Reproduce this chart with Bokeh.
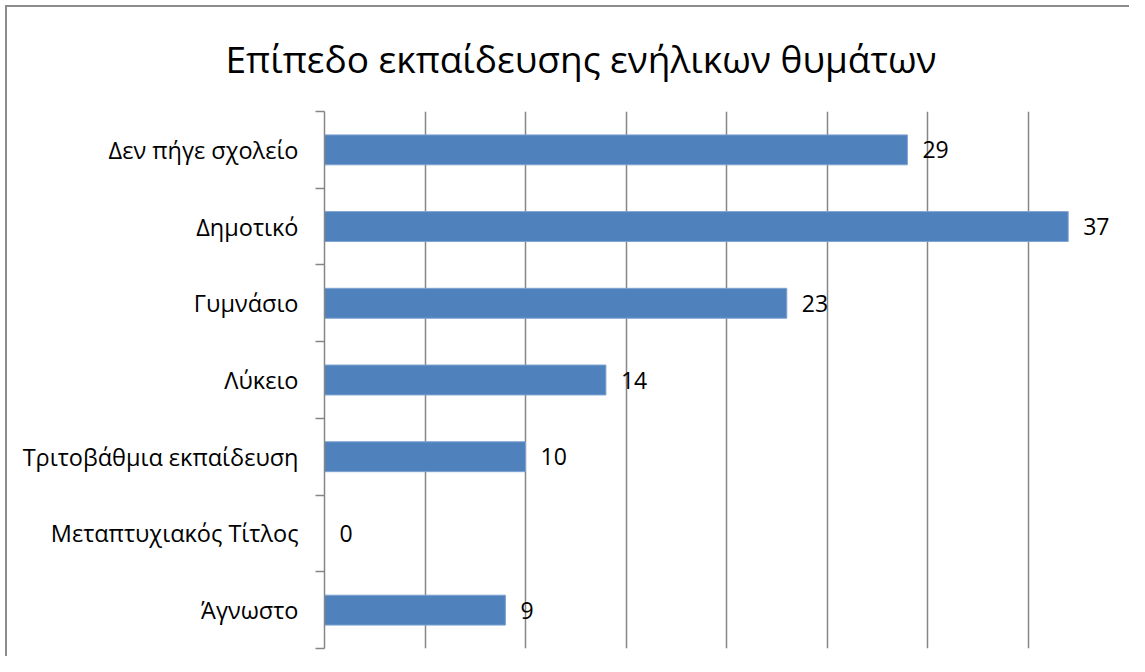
from bokeh.plotting import figure
from bokeh.models import Range1d, FixedTicker, ColumnDataSource, LabelSet
from bokeh.core.properties import value
from bokeh.embed import file_html
from bokeh.resources import INLINE

title_text = "Επίπεδο εκπαίδευσης ενήλικων θυμάτων"
categories = ["Δεν πήγε σχολείο", "Δημοτικό", "Γυμνάσιο", "Λύκειο",
              "Τριτοβάθμια εκπαίδευση", "Μεταπτυχιακός Τίτλος", "Άγνωστο"]
values = [29, 37, 23, 14, 10, 0, 9]
x_ticks = [0, 5, 10, 15, 20, 25, 30, 35, 40]

FONT = "Open Sans"
GRAY = "#868686"

n = len(categories)
ypos = [n - i - 0.5 for i in range(n)]
src = ColumnDataSource(dict(cat=categories, val=values, y=ypos,
                            lab=[str(v) for v in values]))

p = figure(width=1129, height=656, x_range=Range1d(0, 40), y_range=Range1d(0, n),
           output_backend="svg", toolbar_location=None,
           min_border_left=324, min_border_right=1, min_border_top=111,
           min_border_bottom=8)
p.outline_line_color = None
p.background_fill_color = "white"
p.border_fill_color = None
p.styles = {"box-shadow": "inset 5px 5px 0 0 white, inset 7px 7px 0 0 #8c8c8c",
            "background-color": "white"}

# title
p.title.text = title_text
p.title.text_font = FONT
p.title.text_font_size = "37px"
p.title.text_font_style = "normal"
p.title.text_color = "black"
p.title.align = "left"
p.title.offset = -99
p.title.vertical_align = "top"
p.title.standoff = 52

# x axis hidden, grid kept
p.xaxis.visible = False
p.xgrid.ticker = FixedTicker(ticks=x_ticks)
p.xgrid.grid_line_color = GRAY
p.xgrid.grid_line_width = 1.5
p.ygrid.visible = False

# y axis: labels at category centres, tick marks at boundaries
yax = p.yaxis[0]
yax.ticker = FixedTicker(ticks=ypos, minor_ticks=list(range(n + 1)))
yax.major_label_overrides = {y: c for y, c in zip(ypos, categories)}
yax.major_tick_line_color = None
yax.major_tick_out = 0
yax.major_tick_in = 0
yax.minor_tick_line_color = GRAY
yax.minor_tick_line_width = 1.5
yax.minor_tick_out = 9
yax.minor_tick_in = 0
yax.axis_line_color = GRAY
yax.axis_line_width = 1.5
yax.major_label_standoff = 17
yax.major_label_text_font = FONT
yax.major_label_text_font_size = "23.5px"
yax.major_label_text_color = "black"

p.hbar(y="y", left=0, right="val", height=0.39, source=src,
       fill_color="#4F81BD", line_color="#7FA3D1", line_width=1)

labels = LabelSet(x="val", y="y", text="lab", source=src, x_offset=15,
                  text_align="left", text_baseline="middle",
                  text_font=value(FONT), text_font_size=value("23px"),
                  text_color="black")
p.add_layout(labels)

open("out.html", "w").write(file_html(p, INLINE))
